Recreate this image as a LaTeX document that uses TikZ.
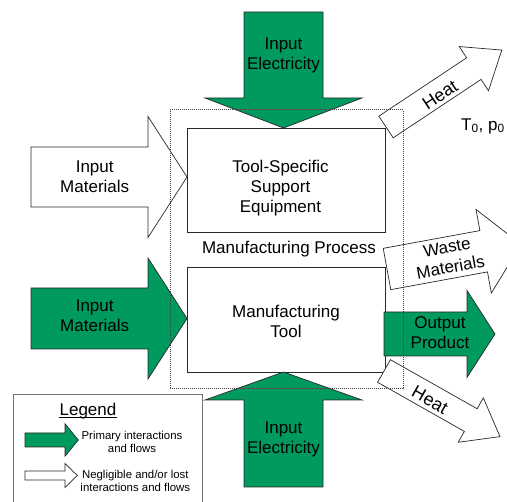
\documentclass[tikz,border=0pt]{standalone}
\usepackage{fontspec}
\setmainfont{Liberation Sans}
\usetikzlibrary{calc}
\definecolor{flowgreen}{RGB}{0,153,94}
\definecolor{edgegray}{RGB}{40,40,40}

% Block arrow: #1 style, #2 tail midpoint, #3 angle, #4 shaft length,
% #5 head length, #6 shaft width, #7 head width
\newcommand\flowarrow[7]{%
  \draw[#1, shift={#2}, rotate=#3]
    (0,{-(#6)/2}) -- ({#4},{-(#6)/2}) -- ({#4},{-(#7)/2}) -- ({#4+#5},0)
    -- ({#4},{(#7)/2}) -- ({#4},{(#6)/2}) -- (0,{(#6)/2}) -- cycle;}

\tikzset{
  greenarrow/.style={fill=flowgreen, draw=edgegray, line width=0.7pt, line join=miter},
  whitearrow/.style={fill=white, draw=edgegray, line width=0.7pt, line join=miter},
  stagebox/.style={draw=edgegray, fill=white, line width=0.9pt, inner sep=0pt},
  processbox/.style={draw=black!75, line width=1pt, dash pattern=on 1pt off 1pt, inner sep=0pt},
  bigtext/.style={font=\fontsize{17}{20}\selectfont, align=center, inner sep=0pt},
  heattext/.style={font=\fontsize{18}{21}\selectfont, align=center, inner sep=0pt},
  smalltext/.style={font=\fontsize{11.4}{12.5}\selectfont, align=center, inner sep=0pt}
}

\begin{document}
\begin{tikzpicture}[x=1pt, y=-1pt]
\clip (0,0) rectangle (507,502);
\fill[white] (0,0) rectangle (507,502);

% the two stages of the process
\node[stagebox, minimum width=198pt, minimum height=104pt] (support) at (286,180) {};
\node[stagebox, minimum width=198pt, minimum height=105pt] (tool) at (286,319.5) {};

% inflows
\flowarrow{whitearrow}{(31,177)}{0}{117}{39}{60}{121}
\flowarrow{greenarrow}{(31,318.5)}{0}{117}{39}{61}{121}
\flowarrow{greenarrow}{(283.5,12)}{-90}{86}{30}{79}{157}
\flowarrow{greenarrow}{(283.5,487)}{90}{87}{28}{79}{157}

% outflows
\flowarrow{greenarrow}{(384,334)}{0}{83}{28}{44}{87}
\flowarrow{whitearrow}{(386,127)}{33.6}{105.5}{33.5}{26}{53}
\flowarrow{whitearrow}{(387,269)}{10.4}{98.3}{38}{42}{85}
\flowarrow{whitearrow}{(384,371)}{-29.5}{99.7}{33.6}{26}{51}

% process boundary
\node[processbox, minimum width=233pt, minimum height=279pt] (process) at (286.5,249.5) {};

% labels
\node[bigtext] (supportlabel) at (280.5,188) {Tool-Specific\\Support\\Equipment};
\node[bigtext] (toollabel) at (286,321) {Manufacturing\\Tool};
\node[bigtext, anchor=base] (processlabel) at (289,253.3) {Manufacturing Process};
\node[bigtext] (matwhite) at (94.7,176.3) {Input\\Materials};
\node[bigtext] (matgreen) at (94.7,315.3) {Input\\Materials};
\node[bigtext] (electop) at (283.5,55.6) {Input\\Electricity};
\node[bigtext] (elecbottom) at (283.5,439.8) {Input\\Electricity};
\node[bigtext] (output) at (440,332.5) {Output\\Product};
\node[heattext, rotate=33.6] (heattop) at (440,95) {Heat};
\node[bigtext, rotate=10.4] (waste) at (448.7,257.3) {Waste\\Materials};
\node[heattext, rotate=-29.5] (heatbottom) at (430,400) {Heat};
\node[bigtext, anchor=base] (ambient) at (483,130.2) {T\textsubscript{0}, p\textsubscript{0}};

% legend
\draw[draw=black!55, line width=1pt] (13,395) rectangle (202,510);
\node[bigtext, anchor=base] (legendtitle) at (88,415.7) {Legend};
\draw[line width=1.1pt] ($(legendtitle.base west)+(0,2)$) -- ($(legendtitle.base east)+(0,2)$);
\flowarrow{greenarrow}{(25,440)}{0}{40}{13.3}{14}{32.4}
\flowarrow{whitearrow}{(25,475.5)}{0}{40}{12.3}{9}{24}
\node[smalltext] (primary) at (132,442) {Primary interactions\\and flows};
\node[smalltext] (negligible) at (135.3,481) {Negligible and/or lost\\interactions and flows};
\end{tikzpicture}
\end{document}
